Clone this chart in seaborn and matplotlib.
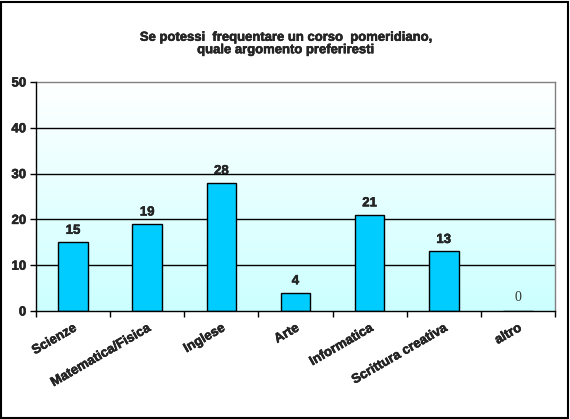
import numpy as np
import pandas as pd
import seaborn as sns
import matplotlib.pyplot as plt
import matplotlib.patheffects as pe
from matplotlib.patches import Rectangle
from matplotlib.colors import LinearSegmentedColormap

categories = ['Scienze', 'Matematica/Fisica', 'Inglese', 'Arte',
              'Informatica', 'Scrittura creativa', 'altro']
values = [15, 19, 28, 4, 21, 13, 0]
title = 'Se potessi  frequentare un corso  pomeridiano,\nquale argomento preferiresti'

df = pd.DataFrame({'argomento': categories, 'n': values})

sns.set_style('white')
plt.rcParams['font.family'] = ['Liberation Sans', 'DejaVu Sans']
plt.rcParams['font.weight'] = 'bold'

# testo un po' più pesante, come il grassetto di Excel
heavy = [pe.withStroke(linewidth=0.35, foreground='black')]

fig = plt.figure(figsize=(5.7, 4.19), dpi=100)
ax = fig.add_axes([36 / 570, 1 - 311 / 419, (555 - 36) / 570, (311 - 82) / 419])

# sfondo sfumato: bianco in alto, azzurro chiaro in basso
grad = np.linspace(1, 0, 256).reshape(-1, 1)
cmap = LinearSegmentedColormap.from_list('bg', ['#ffffff', '#ccffff'])
ax.imshow(grad, aspect='auto', cmap=cmap, extent=[-0.5, 6.5, 0, 50],
          origin='lower', zorder=0)

sns.barplot(data=df, x='argomento', y='n', color='#00ccff', width=0.4,
            edgecolor='black', linewidth=1, saturation=1, ax=ax, zorder=3)

ax.set_xlim(-0.5, 6.5)
ax.set_ylim(0, 50)
ax.set_yticks(range(0, 51, 10))
for y in range(10, 50, 10):
    ax.axhline(y, color='black', lw=1, zorder=1)

for s in ['top', 'right']:
    ax.spines[s].set_color('#808080')
    ax.spines[s].set_linewidth(1)
for s in ['left', 'bottom']:
    ax.spines[s].set_color('black')
    ax.spines[s].set_linewidth(1)
    ax.spines[s].set_zorder(5)

ax.set_xticks(np.arange(-0.5, 7, 1), minor=True)
ax.set_xticks(range(len(categories)))
ax.set_xticklabels(categories, rotation=30, ha='right', rotation_mode='anchor',
                   fontsize=9.5, fontweight='bold')
ax.tick_params(axis='x', which='major', length=0, pad=8)
ax.tick_params(axis='x', which='minor', length=4, width=1, color='black', bottom=True)
ax.tick_params(axis='y', length=4, width=1, color='black', left=True,
               labelsize=9.5, pad=3)
for t in ax.get_yticklabels() + ax.get_xticklabels():
    t.set_fontweight('bold')
    t.set_path_effects(heavy)
ax.set_xlabel('')
ax.set_ylabel('')

for i, v in enumerate(values):
    if v == 0:
        ax.text(i, v + 1.5, str(v), ha='center', va='bottom', fontsize=10,
                family='Liberation Serif', fontweight='normal', color='#333333')
    else:
        ax.text(i, v + 1.2, str(v), ha='center', va='bottom', fontsize=9.5,
                fontweight='bold', path_effects=heavy)

fig.text(0.5, 1 - 44 / 419, title, ha='center', va='center', fontsize=9.4,
         fontweight='bold', linespacing=1.05, path_effects=heavy)

fig.patches.append(Rectangle((1 / 570, 1 / 419), 567 / 570, 416 / 419,
                             transform=fig.transFigure, fill=False,
                             edgecolor='black', lw=1.5))

fig.savefig('out.png', dpi=100)
